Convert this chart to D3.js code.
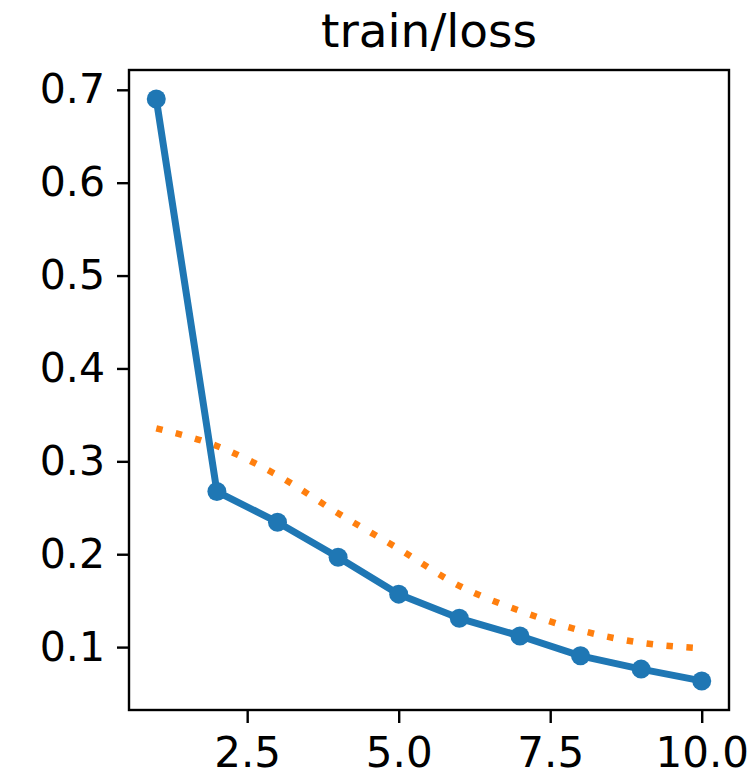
<!DOCTYPE html>
<html>
<head>
<meta charset="utf-8">
<script src="https://cdn.jsdelivr.net/npm/d3@7"></script>
<style>
  html, body { margin: 0; padding: 0; background: #fff; }
  svg { display: block; }
  text { font-family: "DejaVu Sans", sans-serif; fill: #000; }
</style>
</head>
<body>
<svg id="chart" width="750" height="780"></svg>
<script>
const title = "train/loss";
const steps = [1, 2, 3, 4, 5, 6, 7, 8, 9, 10];
const lossValues = [0.690, 0.2675, 0.2345, 0.1968, 0.157, 0.131, 0.112, 0.0906, 0.0763, 0.0636];
const smoothValues = [0.3355, 0.3165, 0.285, 0.244, 0.2058, 0.166, 0.139, 0.118, 0.1047, 0.0986];
const xTicks = [2.5, 5.0, 7.5, 10.0];
const yTicks = [0.1, 0.2, 0.3, 0.4, 0.5, 0.6, 0.7];

const svg = d3.select("#chart");
const frame = { left: 129, right: 729, top: 70, bottom: 710 };

const xExt = d3.extent(steps);
const xPad = (xExt[1] - xExt[0]) * 0.05;
const allY = lossValues.concat(smoothValues);
const yExt = d3.extent(allY);
const yPad = (yExt[1] - yExt[0]) * 0.05;

const x = d3.scaleLinear().domain([xExt[0] - xPad, xExt[1] + xPad]).range([frame.left, frame.right]);
const y = d3.scaleLinear().domain([yExt[0] - yPad, yExt[1] + yPad]).range([frame.bottom, frame.top]);

const fontSize = 41;

// x axis
const xAxis = d3.axisBottom(x).tickValues(xTicks).tickFormat(d3.format(".1f")).tickSize(13).tickPadding(14);
const gx = svg.append("g").attr("transform", `translate(0,${frame.bottom})`).call(xAxis);
gx.select(".domain").remove();
gx.selectAll(".tick line").attr("stroke", "#000").attr("stroke-width", 2.4);
gx.selectAll(".tick text").attr("font-size", 42).attr("font-family", "DejaVu Sans").attr("fill", "#000");

// y axis
const yAxis = d3.axisLeft(y).tickValues(yTicks).tickFormat(d3.format(".1f")).tickSize(12).tickPadding(12);
const gy = svg.append("g").attr("transform", `translate(${frame.left},0)`).call(yAxis);
gy.select(".domain").remove();
gy.selectAll(".tick line").attr("stroke", "#000").attr("stroke-width", 2.4);
gy.selectAll(".tick text").attr("font-size", fontSize).attr("font-family", "DejaVu Sans").attr("fill", "#000");

// clip
svg.append("clipPath").attr("id", "clip").append("rect")
  .attr("x", frame.left).attr("y", frame.top)
  .attr("width", frame.right - frame.left).attr("height", frame.bottom - frame.top);

const plot = svg.append("g").attr("clip-path", "url(#clip)");

const smoothLine = d3.line().x((d, i) => x(steps[i])).y(d => y(d)).curve(d3.curveMonotoneX);
plot.append("path").datum(smoothValues)
  .attr("d", smoothLine)
  .attr("fill", "none").attr("stroke", "#ff7f0e").attr("stroke-width", 6.5)
  .attr("stroke-dasharray", "6.5,13.5");

const lossLine = d3.line().x((d, i) => x(steps[i])).y(d => y(d));
plot.append("path").datum(lossValues)
  .attr("d", lossLine)
  .attr("fill", "none").attr("stroke", "#1f77b4").attr("stroke-width", 7)
  .attr("stroke-linejoin", "round");

plot.selectAll("circle.pt").data(lossValues).enter().append("circle")
  .attr("class", "pt")
  .attr("cx", (d, i) => x(steps[i])).attr("cy", d => y(d))
  .attr("r", 9.5).attr("fill", "#1f77b4");

// frame
svg.append("rect")
  .attr("x", frame.left).attr("y", frame.top)
  .attr("width", frame.right - frame.left).attr("height", frame.bottom - frame.top)
  .attr("fill", "none").attr("stroke", "#000").attr("stroke-width", 2.4);

// title
svg.append("text")
  .attr("x", (frame.left + frame.right) / 2).attr("y", 47)
  .attr("text-anchor", "middle").attr("font-size", 47)
  .text(title);
</script>
</body>
</html>
